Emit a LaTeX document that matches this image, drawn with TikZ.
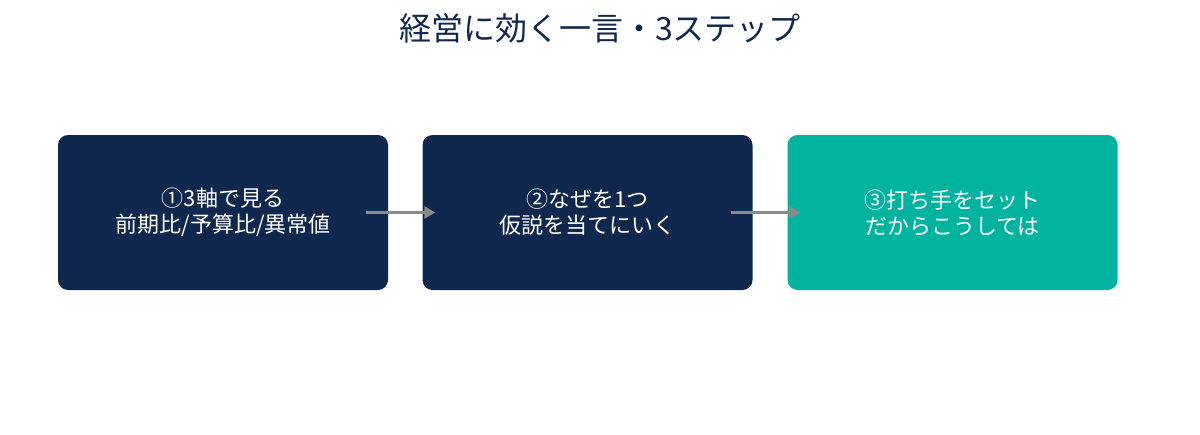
\documentclass[tikz,border=0pt]{standalone}
\usepackage{fontspec}
\setmainfont{Noto Sans CJK JP}
\usetikzlibrary{arrows.meta,calc}
\definecolor{navy}{HTML}{11284E}
\definecolor{teal}{HTML}{00B39F}
\definecolor{arrowgray}{HTML}{8A8A8A}
\begin{document}
\begin{tikzpicture}[x=1pt,y=-1pt,
  stepbox/.style={rectangle,rounded corners=10pt,minimum width=330pt,minimum height=155pt,
    text=white,align=center,font=\fontsize{22}{26}\selectfont,inner sep=0pt},
  flow/.style={draw=arrowgray,line width=3pt,-{Triangle[length=11pt,width=12pt]}}]
\fill[white] (0,0) rectangle (1200,434);
\node[text=navy,font=\fontsize{32}{38}\selectfont] (title) at (600,28) {経営に効く一言・3ステップ};
\node[stepbox,fill=navy] (b1) at (223,212.5) {①3軸で見る\\前期比/予算比/異常値};
\node[stepbox,fill=navy] (b2) at (587.5,212.5) {②なぜを1つ\\仮説を当てにいく};
\node[stepbox,fill=teal] (b3) at (952.5,212.5) {③打ち手をセット\\だからこうしては};
\draw[flow] ($(b1.east)+(-22,0)$) -- ($(b2.west)+(13,0)$);
\draw[flow] ($(b2.east)+(-22,0)$) -- ($(b3.west)+(13,0)$);
\end{tikzpicture}
\end{document}
